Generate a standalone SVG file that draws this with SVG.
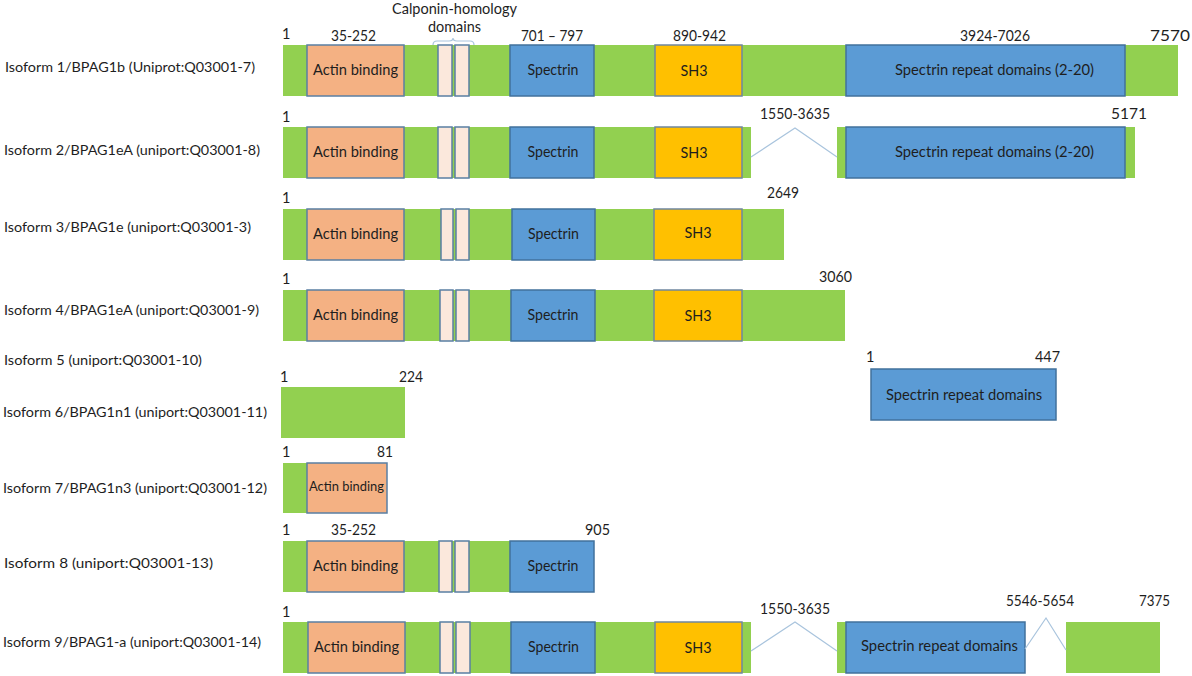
<svg xmlns="http://www.w3.org/2000/svg" width="1192" height="676" viewBox="0 0 1192 676">
<style>
text{font-family:Lato,"Liberation Sans",sans-serif;fill:#1e1e1e}
.lbl{font-size:13.5px}
.num{font-size:14.5px}
.hdr{font-size:15px;text-anchor:middle}
.box{font-size:15.5px;text-anchor:middle}
.g{fill:#92d050}
.ab{fill:#f4b183;stroke:#5a7fa3;stroke-width:1.5}
.ch{fill:#fbe8dc;stroke:#5a7fa3;stroke-width:1.5}
.sp{fill:#5b9bd5;stroke:#41719c;stroke-width:1.5}
.sh{fill:#ffc000;stroke:#6f86a0;stroke-width:1.5}
.cn{fill:none;stroke:#a9c4dd;stroke-width:1.2}
</style>
<rect width="1192" height="676" fill="#ffffff"/>

<g id="ch-header">
<text x="454.5" y="14" class="hdr" textLength="125" lengthAdjust="spacingAndGlyphs">Calponin-homology</text>
<text x="454.5" y="32" class="hdr" textLength="53" lengthAdjust="spacingAndGlyphs">domains</text>
<path class="cn" d="M433,45 Q433,41 437,41 L449,41 Q453,41 453,38 Q453,41 457,41 L470,41 Q474,41 474,45"/>
</g>

<g id="isoform1">
<text x="5" y="72" class="lbl" textLength="250" lengthAdjust="spacingAndGlyphs">Isoform 1/BPAG1b (Uniprot:Q03001-7)</text>
<rect class="g" x="283" y="45" width="895" height="51"/>
<rect class="ab" x="307" y="45" width="97" height="51"/>
<rect class="ch" x="438" y="45" width="14" height="51"/>
<rect class="ch" x="455" y="45" width="14" height="51"/>
<rect class="sp" x="510" y="45" width="84" height="51"/>
<rect class="sh" x="655" y="45" width="87" height="51"/>
<rect class="sp" x="846" y="45" width="279" height="51"/>
<text x="355.5" y="75" class="box" textLength="85" lengthAdjust="spacingAndGlyphs">Actin binding</text>
<text x="553" y="75" class="box" textLength="51" lengthAdjust="spacingAndGlyphs">Spectrin</text>
<text x="694" y="76" class="box" textLength="27" lengthAdjust="spacingAndGlyphs">SH3</text>
<text x="994.5" y="75" class="box" textLength="199" lengthAdjust="spacingAndGlyphs">Spectrin repeat domains (2-20)</text>
<text x="282" y="39" class="num">1</text>
<text x="331" y="41" class="num" textLength="45" lengthAdjust="spacingAndGlyphs">35-252</text>
<text x="521" y="41" class="num" textLength="62" lengthAdjust="spacingAndGlyphs">701 – 797</text>
<text x="673" y="41" class="num" textLength="53" lengthAdjust="spacingAndGlyphs">890-942</text>
<text x="960" y="41" class="num" textLength="70" lengthAdjust="spacingAndGlyphs">3924-7026</text>
<text x="1150" y="41" class="num" textLength="40" lengthAdjust="spacingAndGlyphs">7570</text>
</g>

<g id="isoform2">
<text x="4" y="155" class="lbl" textLength="256" lengthAdjust="spacingAndGlyphs">Isoform 2/BPAG1eA (uniport:Q03001-8)</text>
<rect class="g" x="283" y="127" width="468" height="51"/>
<rect class="ab" x="307" y="127" width="97" height="51"/>
<rect class="ch" x="438" y="127" width="14" height="51"/>
<rect class="ch" x="455" y="127" width="14" height="51"/>
<rect class="sp" x="510" y="127" width="84" height="51"/>
<rect class="sh" x="655" y="127" width="87" height="51"/>
<rect class="g" x="837" y="127" width="298" height="51"/>
<rect class="sp" x="846" y="127" width="279" height="51"/>
<text x="355.5" y="157" class="box" textLength="85" lengthAdjust="spacingAndGlyphs">Actin binding</text>
<text x="553" y="157" class="box" textLength="51" lengthAdjust="spacingAndGlyphs">Spectrin</text>
<text x="694" y="158" class="box" textLength="27" lengthAdjust="spacingAndGlyphs">SH3</text>
<text x="994.5" y="157" class="box" textLength="199" lengthAdjust="spacingAndGlyphs">Spectrin repeat domains (2-20)</text>
<text x="282" y="122" class="num">1</text>
<text x="760" y="119" class="num" textLength="70" lengthAdjust="spacingAndGlyphs">1550-3635</text>
<text x="1111" y="119" class="num" textLength="36" lengthAdjust="spacingAndGlyphs">5171</text>
</g>

<g id="isoform3">
<text x="4" y="232" class="lbl" textLength="247" lengthAdjust="spacingAndGlyphs">Isoform 3/BPAG1e (uniport:Q03001-3)</text>
<rect class="g" x="283" y="209" width="501" height="51"/>
<rect class="ab" x="307" y="209" width="97" height="51"/>
<rect class="ch" x="441" y="209" width="12" height="51"/>
<rect class="ch" x="456" y="209" width="13" height="51"/>
<rect class="sp" x="512" y="209" width="83" height="51"/>
<rect class="sh" x="654" y="209" width="88" height="51"/>
<text x="355.5" y="239" class="box" textLength="85" lengthAdjust="spacingAndGlyphs">Actin binding</text>
<text x="553.5" y="239" class="box" textLength="51" lengthAdjust="spacingAndGlyphs">Spectrin</text>
<text x="698" y="238" class="box" textLength="27" lengthAdjust="spacingAndGlyphs">SH3</text>
<text x="282" y="203" class="num">1</text>
<text x="767" y="198" class="num" textLength="32" lengthAdjust="spacingAndGlyphs">2649</text>
</g>

<g id="isoform4">
<text x="4" y="315" class="lbl" textLength="255" lengthAdjust="spacingAndGlyphs">Isoform 4/BPAG1eA (uniport:Q03001-9)</text>
<rect class="g" x="283" y="290" width="562" height="51"/>
<rect class="ab" x="307" y="290" width="97" height="51"/>
<rect class="ch" x="440" y="290" width="13" height="51"/>
<rect class="ch" x="456" y="290" width="13" height="51"/>
<rect class="sp" x="511" y="290" width="84" height="51"/>
<rect class="sh" x="654" y="290" width="88" height="51"/>
<text x="355.5" y="320" class="box" textLength="85" lengthAdjust="spacingAndGlyphs">Actin binding</text>
<text x="553" y="320" class="box" textLength="51" lengthAdjust="spacingAndGlyphs">Spectrin</text>
<text x="698" y="321" class="box" textLength="27" lengthAdjust="spacingAndGlyphs">SH3</text>
<text x="282" y="284" class="num">1</text>
<text x="819" y="282" class="num" textLength="33" lengthAdjust="spacingAndGlyphs">3060</text>
</g>

<g id="isoform5">
<text x="4" y="365" class="lbl" textLength="198" lengthAdjust="spacingAndGlyphs">Isoform 5 (uniport:Q03001-10)</text>
<rect class="sp" x="871" y="369" width="185" height="51"/>
<text x="964" y="400" class="box" textLength="156" lengthAdjust="spacingAndGlyphs">Spectrin repeat domains</text>
<text x="866" y="362" class="num">1</text>
<text x="1035" y="362" class="num" textLength="25" lengthAdjust="spacingAndGlyphs">447</text>
</g>

<g id="isoform6">
<text x="3" y="417" class="lbl" textLength="264" lengthAdjust="spacingAndGlyphs">Isoform 6/BPAG1n1 (uniport:Q03001-11)</text>
<rect class="g" x="281" y="387" width="124" height="51"/>
<text x="280" y="382" class="num">1</text>
<text x="399" y="382" class="num" textLength="24" lengthAdjust="spacingAndGlyphs">224</text>
</g>

<g id="isoform7">
<text x="3" y="493" class="lbl" textLength="264" lengthAdjust="spacingAndGlyphs">Isoform 7/BPAG1n3 (uniport:Q03001-12)</text>
<rect class="g" x="283" y="463" width="24" height="50"/>
<rect class="ab" x="307" y="463" width="80" height="50"/>
<text x="346.5" y="491" class="box" style="font-size:13.5px" textLength="75" lengthAdjust="spacingAndGlyphs">Actin binding</text>
<text x="282" y="457" class="num">1</text>
<text x="377" y="457" class="num" textLength="16" lengthAdjust="spacingAndGlyphs">81</text>
</g>

<g id="isoform8">
<text x="4" y="568" class="lbl" textLength="209" lengthAdjust="spacingAndGlyphs">Isoform 8 (uniport:Q03001-13)</text>
<rect class="g" x="283" y="541" width="311" height="51"/>
<rect class="ab" x="307" y="541" width="97" height="51"/>
<rect class="ch" x="439" y="541" width="13" height="51"/>
<rect class="ch" x="455" y="541" width="14" height="51"/>
<rect class="sp" x="510" y="541" width="84" height="51"/>
<text x="355.5" y="571" class="box" textLength="85" lengthAdjust="spacingAndGlyphs">Actin binding</text>
<text x="553" y="571" class="box" textLength="51" lengthAdjust="spacingAndGlyphs">Spectrin</text>
<text x="282" y="535" class="num">1</text>
<text x="331" y="535" class="num" textLength="45" lengthAdjust="spacingAndGlyphs">35-252</text>
<text x="585" y="535" class="num" textLength="25" lengthAdjust="spacingAndGlyphs">905</text>
</g>

<g id="isoform9">
<text x="3" y="647" class="lbl" textLength="258" lengthAdjust="spacingAndGlyphs">Isoform 9/BPAG1-a (uniport:Q03001-14)</text>
<rect class="g" x="283" y="622" width="468" height="51"/>
<rect class="ab" x="308" y="622" width="97" height="51"/>
<rect class="ch" x="440" y="622" width="13" height="51"/>
<rect class="ch" x="456" y="622" width="14" height="51"/>
<rect class="sp" x="511" y="622" width="84" height="51"/>
<rect class="sh" x="655" y="622" width="87" height="51"/>
<rect class="g" x="837" y="622" width="188" height="51"/>
<rect class="sp" x="846" y="622" width="179" height="51"/>
<rect class="g" x="1066" y="622" width="94" height="51"/>
<text x="356.5" y="652" class="box" textLength="85" lengthAdjust="spacingAndGlyphs">Actin binding</text>
<text x="553.5" y="652" class="box" textLength="51" lengthAdjust="spacingAndGlyphs">Spectrin</text>
<text x="698" y="653" class="box" textLength="27" lengthAdjust="spacingAndGlyphs">SH3</text>
<text x="939.5" y="651" class="box" textLength="157" lengthAdjust="spacingAndGlyphs">Spectrin repeat domains</text>
<text x="282" y="617" class="num">1</text>
<text x="760" y="614" class="num" textLength="70" lengthAdjust="spacingAndGlyphs">1550-3635</text>
<text x="1006" y="606" class="num" textLength="68" lengthAdjust="spacingAndGlyphs">5546-5654</text>
<text x="1139" y="606" class="num" textLength="31" lengthAdjust="spacingAndGlyphs">7375</text>
</g>

<g id="connectors">
<polyline class="cn" points="751,157 795,128 837,157"/>
<polyline class="cn" points="751,651 795,622 837,651"/>
<polyline class="cn" points="1025,649 1046,618 1066,650"/>
</g>
</svg>
